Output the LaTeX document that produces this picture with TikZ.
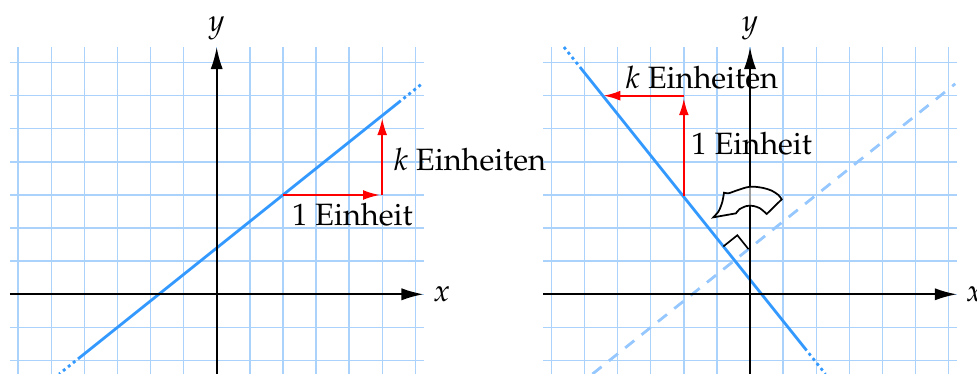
\documentclass[tikz,border=0pt]{standalone}
\usepackage[T1]{fontenc}
\usepackage{mathpazo}
\usetikzlibrary{arrows.meta}
\definecolor{gridblue}{RGB}{170,210,250}
\definecolor{lineblue}{RGB}{51,153,255}
\definecolor{lightline}{RGB}{150,200,255}
\begin{document}
\begin{tikzpicture}[x=1cm,y=1cm,
 gridline/.style={draw=gridblue, line width=1.2pt},
 axis/.style={draw=black, line width=1.7pt, -{Latex[length=19pt,width=10.5pt]}},
 graph/.style={draw=lineblue, line width=2.4pt},
 graphdot/.style={draw=lineblue, line width=2.4pt, dash pattern=on 2.5pt off 3pt, dash phase=2.5pt},
 graphdash/.style={draw=lightline, line width=2.4pt, dash pattern=on 10pt off 8pt},
 redarrow/.style={draw=red, line width=1.7pt, -{Latex[length=14.5pt,width=8.5pt]}},
 lbl/.style={font=\fontsize{26.5}{32}\selectfont, inner sep=0pt, anchor=base},
 axlbl/.style={font=\fontsize{26.5}{32}\selectfont, inner sep=0pt},
 turn/.style={draw=black, line width=1.5pt, line join=miter, fill=white, fill opacity=0.6},
 rightangle/.style={draw=black, line width=1.4pt},
]
\useasboundingbox (-6.547,-2.408) rectangle (22.970,8.891);

% ---------------- left panel ----------------
\begin{scope}
\draw[gridline] (-6.25,-2.6) grid (6.25,7.47);
\coordinate (xl0) at (-6.25,0);
\coordinate (xl1) at (6.25,0);
\coordinate (yl0) at (0,-2.6);
\coordinate (yl1) at (0,7.47);
\coordinate (l1) at (-4.76,-2.408);
\coordinate (l2) at (-4.19,-1.952);
\coordinate (l3) at (5.56,5.848);
\coordinate (l4) at (6.23,6.384);
\draw[graphdot] (l2) -- (l1);
\draw[graph] (l2) -- (l3);
\draw[graphdot] (l3) -- (l4);
\coordinate (ra) at (2,3);
\coordinate (rb) at (4.93,3);
\coordinate (rc) at (5,3);
\coordinate (rd) at (5,5.32);
\draw[redarrow] (ra) -- (rb);
\draw[redarrow] (rc) -- (rd);
\draw[axis] (xl0) -- (xl1);
\draw[axis] (yl0) -- (yl1);
\node[axlbl] (xL) at (6.8,0) {$x$};
\node[lbl] (yL) at (0,7.93) {$y$};
\node[lbl] (einsL) at (4.10,2.09) {1 Einheit};
\node[lbl] (kL) at (7.65,3.73) {$k$ Einheiten};
\end{scope}

% ---------------- right panel ----------------
\begin{scope}[xshift=16.113cm]
\draw[gridline] (-6.25,-2.6) grid (6.25,7.47);
\coordinate (xr0) at (-6.25,0);
\coordinate (xr1) at (6.25,0);
\coordinate (yr0) at (0,-2.6);
\coordinate (yr1) at (0,7.47);
% original line, dashed
\coordinate (d1) at (-4.76,-2.408);
\coordinate (d2) at (6.2,6.36);
\draw[graphdash] (d1) -- (d2);
% rotated line y = 0.44 - 1.25 x
\coordinate (m1) at (-5.624,7.47);
\coordinate (m2) at (-5.14,6.865);
\coordinate (m3) at (1.71,-1.6975);
\coordinate (m4) at (2.278,-2.408);
\draw[graphdot] (m2) -- (m1);
\draw[graph] (m2) -- (m3);
\draw[graphdot] (m3) -- (m4);
% right angle mark
\coordinate (q1) at (-0.805,1.447);
\coordinate (q2) at (-0.383,1.784);
\coordinate (q3) at (-0.046,1.362);
\draw[rightangle] (q1) -- (q2) -- (q3);
% red arrows
\coordinate (sa) at (-2,2.98);
\coordinate (sb) at (-2,5.92);
\coordinate (sc) at (-2,6);
\coordinate (sd) at (-4.43,6);
\draw[redarrow] (sa) -- (sb);
\draw[redarrow] (sc) -- (sd);
\draw[axis] (xr0) -- (xr1);
\draw[axis] (yr0) -- (yr1);
% rotation arrow
\draw[turn] (-1.108,2.325) -- (-0.423,2.446)
  -- plot[smooth] coordinates {(-0.423,2.446) (-0.322,2.567) (-0.101,2.668) (0.101,2.668) (0.302,2.597) (0.504,2.426)}
  -- plot[smooth] coordinates {(0.957,2.869) (0.856,3.0) (0.655,3.131) (0.403,3.211) (0.101,3.252) (-0.101,3.232) (-0.302,3.171) (-0.504,3.101) (-0.655,3.05) (-0.785,3.07)}
  -- plot[smooth] coordinates {(-0.785,3.07) (-0.806,2.95) (-0.836,2.798) (-0.886,2.647) (-0.957,2.496) (-1.108,2.325)}
  -- cycle;
\node[axlbl] (xR) at (6.78,0) {$x$};
\node[lbl] (yR) at (0,7.93) {$y$};
\node[lbl] (einsR) at (0.05,4.21) {1 Einheit};
\node[lbl] (kR) at (-1.46,6.22) {$k$ Einheiten};
\end{scope}
\end{tikzpicture}
\end{document}
